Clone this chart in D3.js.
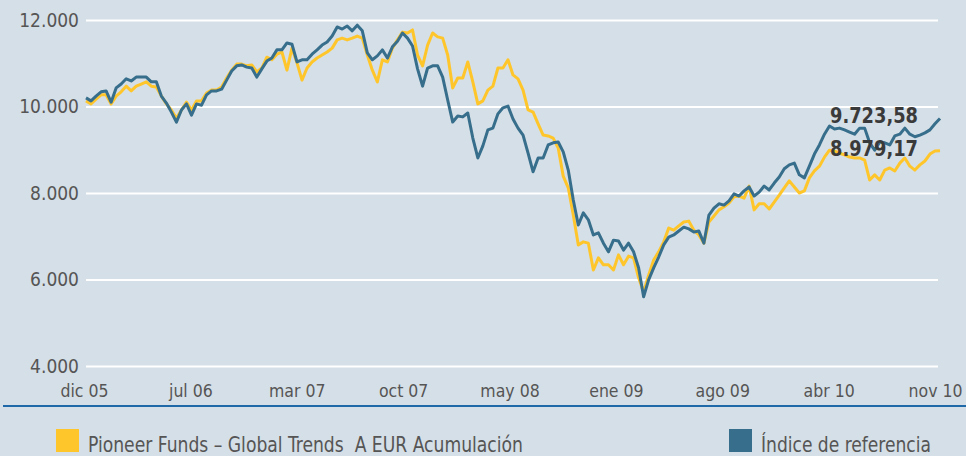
<!DOCTYPE html>
<html>
<head>
<meta charset="utf-8">
<script src="https://cdn.jsdelivr.net/npm/d3@7"></script>
<style>
  body { margin: 0; background: #d5dfe7; }
  svg { display: block; }
  text { font-family: "DejaVu Sans Condensed", "Liberation Sans", sans-serif; }
</style>
</head>
<body>
<svg id="mainSVG" width="966" height="456"></svg>
<script>

// x axis labels (month year)
var monthLabels = ["dic 05", "jul 06", "mar 07", "oct 07", "may 08", "ene 09", "ago 09", "abr 10", "nov 10"];

// y axis ticks
var yTicks = [4000, 6000, 8000, 10000, 12000];

// Pioneer Funds - Global Trends A EUR Acumulación
var fundValues = [
  10130, 10060, 10170, 10270, 10270, 10060, 10240, 10340, 10470, 10360,
  10470, 10520, 10570, 10470, 10450, 10240, 10060, 9920, 9730, 9920,
  10100, 9920, 10130, 10130, 10310, 10380, 10380, 10450, 10660, 10840,
  10980, 10980, 10940, 10960, 10800, 10890, 11140, 11080, 11210, 11260,
  10840, 11350, 11010, 10610, 10890, 11030, 11120, 11190, 11260, 11350,
  11540, 11580, 11540, 11580, 11630, 11580, 11190, 10840, 10570, 11080,
  11030, 11350, 11540, 11720, 11700, 11770, 11190, 10940, 11420, 11700,
  11610, 11580, 11190, 10430, 10660, 10660, 11030, 10570, 10060, 10130,
  10380, 10470, 10890, 10890, 11080, 10730, 10640, 10380, 9920, 9870,
  9600, 9340, 9320, 9270, 9040, 8390, 8120, 7490, 6800, 6870,
  6840, 6220, 6500, 6340, 6340, 6220, 6570, 6340, 6540, 6500,
  6040, 5710, 6100, 6450, 6640, 6870, 7190, 7140, 7240, 7330,
  7350, 7140, 7030, 6840, 7330, 7470, 7610, 7680, 7770, 7910,
  7930, 7880, 8160, 7610, 7750, 7750, 7630, 7790, 7950, 8120,
  8280, 8140, 8000, 8050, 8350, 8510, 8620, 8830, 8990, 8970,
  8920, 8880, 8830, 8810, 8810, 8760, 8300, 8420, 8300, 8530,
  8580, 8510, 8690, 8810, 8620, 8530, 8650, 8740, 8900, 8970,
  8979.17
];

// Índice de referencia
var indexValues = [
  10200, 10130, 10240, 10340, 10360, 10100, 10430, 10520, 10640, 10590,
  10680, 10680, 10680, 10570, 10570, 10240, 10080, 9870, 9640, 9920,
  10060, 9800, 10060, 10030, 10270, 10360, 10360, 10400, 10610, 10820,
  10940, 10960, 10910, 10890, 10680, 10870, 11050, 11120, 11310, 11310,
  11470, 11440, 11030, 11080, 11080, 11210, 11310, 11420, 11490, 11630,
  11840, 11790, 11860, 11750, 11880, 11750, 11240, 11080, 11170, 11310,
  11120, 11380, 11510, 11700, 11580, 11400, 10870, 10470, 10890, 10940,
  10940, 10680, 10150, 9640, 9780, 9760, 9850, 9270, 8810, 9090,
  9460, 9500, 9830, 9970, 10010, 9710, 9500, 9340, 8920, 8490,
  8810, 8810, 9110, 9160, 9180, 8950, 8530, 7840, 7260, 7540,
  7380, 7030, 7080, 6840, 6640, 6910, 6890, 6680, 6840, 6640,
  6270, 5600, 5990, 6270, 6520, 6800, 6980, 7030, 7120, 7210,
  7170, 7100, 7120, 6840, 7490, 7650, 7750, 7720, 7820, 7980,
  7930, 8050, 8140, 7930, 8020, 8160, 8070, 8230, 8370, 8560,
  8650, 8690, 8420, 8350, 8620, 8900, 9110, 9360, 9550, 9480,
  9500, 9460, 9410, 9360, 9500, 9500, 9160, 8990, 9180, 9160,
  9110, 9320, 9360, 9500, 9360, 9300, 9340, 9390, 9460, 9600,
  9723.58
];

var fundColor = "#ffc62b";
var indexColor = "#376e8b";

var es = d3.formatLocale({decimal: ",", thousands: ".", grouping: [3], currency: ["", " €"]});
var fmtTick = es.format(",.0f");
var fmtLast = es.format(",.2f");

var svg = d3.select("#mainSVG");

var x = d3.scaleLinear().domain([0, fundValues.length - 1]).range([86, 940]);
var y = d3.scaleLinear().domain([4000, 12000]).range([366, 20]);
var xLabels = d3.scalePoint().domain(monthLabels).range([84, 935]);

// gridlines + y labels
var yAxis = svg.append("g")
    .attr("transform", "translate(86,0)")
    .call(d3.axisLeft(y).tickValues(yTicks).tickFormat(fmtTick).tickSize(-852).tickPadding(7));
yAxis.select(".domain").remove();
yAxis.selectAll("line")
    .attr("stroke", "#ffffff")
    .attr("stroke-width", 2);
yAxis.selectAll("text")
    .attr("font-size", 19)
    .attr("fill", "#555555");

// x labels
var xAxis = svg.append("g")
    .attr("transform", "translate(0,385)")
    .call(d3.axisBottom(xLabels).tickSize(0).tickPadding(0));
xAxis.select(".domain").remove();
xAxis.selectAll("text")
    .attr("font-size", 17.5)
    .attr("fill", "#555555");

// blue rule under the axis
svg.append("line")
    .attr("x1", 3)
    .attr("x2", 966)
    .attr("y1", 406)
    .attr("y2", 406)
    .attr("stroke", "#1f69a8")
    .attr("stroke-width", 2);

var line = d3.line()
    .x(function(d, i) { return x(i); })
    .y(function(d) { return y(d); });

svg.append("path")
    .datum(fundValues)
    .attr("fill", "none")
    .attr("stroke", fundColor)
    .attr("stroke-width", 3)
    .attr("stroke-linejoin", "round")
    .attr("d", line);

svg.append("path")
    .datum(indexValues)
    .attr("fill", "none")
    .attr("stroke", indexColor)
    .attr("stroke-width", 3)
    .attr("stroke-linejoin", "round")
    .attr("d", line);

// last values
var lastI = fundValues.length - 1;
[indexValues, fundValues].forEach(function(vals) {
  svg.append("text")
    .attr("x", x(lastI) - 22)
    .attr("y", y(vals[lastI]) + 5)
    .attr("text-anchor", "end")
    .attr("font-size", 21)
    .attr("font-weight", "bold")
    .attr("fill", "#3a3a3a")
    .attr("textLength", 88)
    .attr("lengthAdjust", "spacingAndGlyphs")
    .text(fmtLast(vals[lastI]));
});

// legend (the original font is condensed, so squeeze to its width)
var legend = [
  {name: "Pioneer Funds \u2013 Global Trends  A EUR Acumulación", color: fundColor, x: 56, w: 435},
  {name: "Índice de referencia", color: indexColor, x: 729, w: 170}
];
legend.forEach(function(l) {
  svg.append("rect")
    .attr("x", l.x)
    .attr("y", 429)
    .attr("width", 23)
    .attr("height", 23)
    .attr("fill", l.color);
  svg.append("text")
    .attr("x", l.x + 32)
    .attr("y", 452)
    .attr("font-size", 22)
    .attr("fill", "#555555")
    .attr("textLength", l.w)
    .attr("lengthAdjust", "spacingAndGlyphs")
    .style("white-space", "pre")
    .text(l.name);
});

</script>
</body>
</html>
